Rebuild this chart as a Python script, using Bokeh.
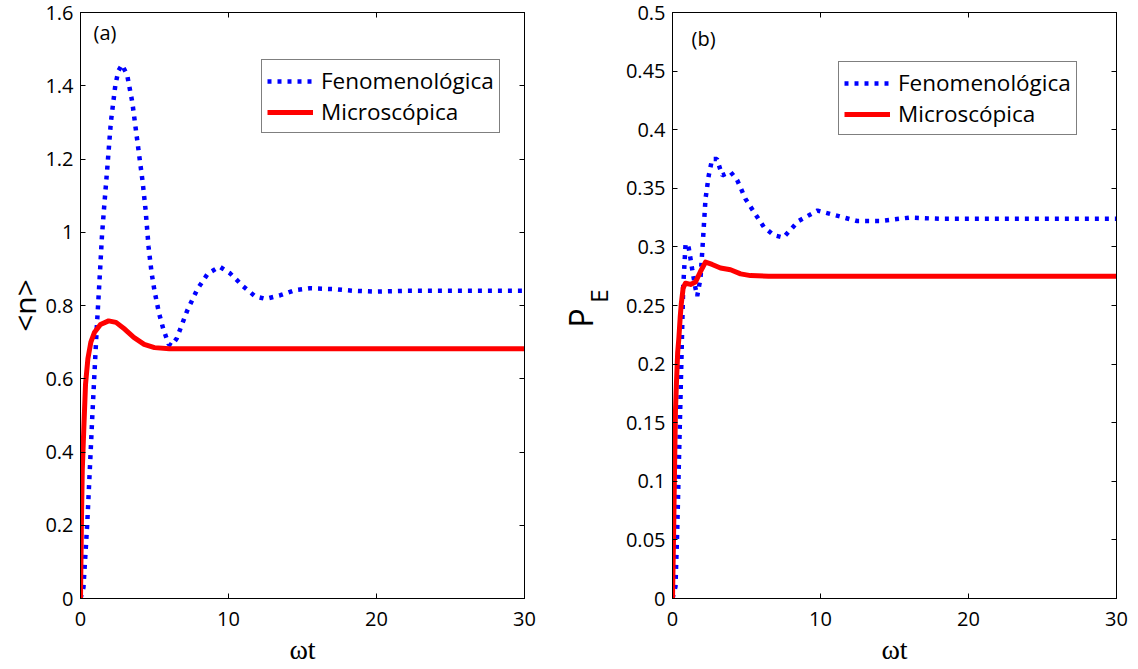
from bokeh.plotting import figure
from bokeh.layouts import row
from bokeh.models import Range1d, FixedTicker, LinearAxis, Label, Legend, LegendItem
from bokeh.embed import file_html
from bokeh.resources import INLINE

# ---------------- data ----------------
# panel (a): <n> vs wt
t_n_fen = [0, 0.2, 0.45, 0.65, 0.8, 0.95, 1.1, 1.3, 1.45, 1.6, 1.8, 2.05, 2.35, 2.55, 2.8,
           3.15, 3.5, 3.85, 4.2, 4.4, 4.6, 4.8, 5.0, 5.3, 5.6, 5.95, 6.15, 6.5, 7.2, 7.9,
           8.6, 9.4, 10.1, 11.0, 11.8, 12.5, 13.5, 14.5, 15.5, 17, 18.5, 20, 22, 25, 30]
n_fen = [0, 0.03, 0.2, 0.37, 0.5, 0.62, 0.74, 0.88, 0.99, 1.07, 1.17, 1.30, 1.40, 1.44, 1.457,
         1.43, 1.355, 1.246, 1.137, 1.06, 0.96, 0.89, 0.84, 0.78, 0.735, 0.695, 0.69, 0.71, 0.785, 0.845,
         0.887, 0.906, 0.888, 0.852, 0.825, 0.818, 0.828, 0.842, 0.847, 0.845, 0.84, 0.838, 0.84, 0.84, 0.84]

t_n_mic = [0, 0.06, 0.12, 0.22, 0.34, 0.5, 0.7, 0.95, 1.35, 1.9, 2.4, 3.0, 3.6, 4.3, 5.0, 6.0, 30]
n_mic = [0, 0.2, 0.35, 0.46, 0.585, 0.655, 0.70, 0.727, 0.748, 0.758, 0.754, 0.735, 0.713, 0.694, 0.685, 0.682, 0.682]

# panel (b): P_E vs wt
t_p_fen = [0, 0.2, 0.32, 0.43, 0.54, 0.65, 0.72, 0.88, 1.0, 1.1, 1.33, 1.55, 1.67, 1.89, 2.05,
           2.23, 2.45, 2.68, 3.0, 3.36, 3.92, 4.37, 4.93, 5.49, 6.17, 6.84, 7.5, 8.5, 9.8,
           11, 12.5, 14, 16, 18, 20, 30]
p_fen = [0, 0.01, 0.058, 0.115, 0.171, 0.228, 0.265, 0.302, 0.303, 0.299, 0.281, 0.265, 0.258, 0.273, 0.304,
         0.341, 0.361, 0.375, 0.375, 0.361, 0.364, 0.357, 0.341, 0.330, 0.317, 0.310, 0.308, 0.322, 0.331,
         0.327, 0.322, 0.322, 0.325, 0.324, 0.324, 0.324]

t_p_mic = [0, 0.08, 0.15, 0.2, 0.27, 0.35, 0.43, 0.52, 0.59, 0.72, 0.88, 1.22, 1.55, 1.89, 2.23,
           2.68, 3.24, 3.92, 4.6, 5.27, 6.5, 30]
p_mic = [0, 0.06, 0.12, 0.16, 0.185, 0.21, 0.222, 0.24, 0.251, 0.265, 0.269, 0.268, 0.270, 0.279, 0.287,
         0.285, 0.282, 0.2805, 0.277, 0.2755, 0.275, 0.275]

series_names = ["Fenomenológica", "Microscópica"]

x_ticks = [0, 10, 20, 30]
n_ticks = [0, 0.2, 0.4, 0.6, 0.8, 1.0, 1.2, 1.4, 1.6]
n_tick_labels = ["0", "0.2", "0.4", "0.6", "0.8", "1", "1.2", "1.4", "1.6"]
p_ticks = [0, 0.05, 0.1, 0.15, 0.2, 0.25, 0.3, 0.35, 0.4, 0.45, 0.5]
p_tick_labels = ["0", "0.05", "0.1", "0.15", "0.2", "0.25", "0.3", "0.35", "0.4", "0.45", "0.5"]

BLUE = "#0000FF"
RED = "#FF0000"
FONT = "Open Sans"
NBSP = "\u00a0"


def style_axis(ax, ticks, labels=None, show_labels=True, standoff=7):
    ax.ticker = FixedTicker(ticks=ticks)
    ax.axis_line_color = "black"
    ax.major_tick_line_color = "black"
    ax.major_tick_in = 5
    ax.major_tick_out = 0
    ax.minor_tick_line_color = None
    if show_labels:
        ax.major_label_text_font = FONT
        ax.major_label_text_font_size = "20px"
        ax.major_label_text_color = "black"
        ax.major_label_standoff = standoff
        if labels is not None:
            ax.major_label_overrides = {float(k): v for k, v in zip(ticks, labels)}
    else:
        ax.major_label_overrides = {float(k): "" for k in ticks}
        ax.major_label_text_font_size = "0px"
        ax.major_label_standoff = 0


def make_panel(width, left_border, right_border, y_max, y_ticks, y_labels,
               t_fen, y_fen, t_mic, y_mic, legend_loc):
    p = figure(width=width, height=669, x_range=Range1d(0, 30), y_range=Range1d(0, y_max),
               output_backend="svg", toolbar_location=None,
               min_border_left=left_border, min_border_right=right_border,
               min_border_top=12, min_border_bottom=71)
    p.grid.visible = False
    p.outline_line_color = "black"
    p.background_fill_color = "white"
    p.border_fill_color = "white"

    style_axis(p.xaxis[0], x_ticks, standoff=13)
    style_axis(p.yaxis[0], y_ticks, y_labels)
    p.xaxis[0].axis_label = "ωt"
    p.xaxis[0].axis_label_text_font = "Liberation Serif"
    p.xaxis[0].axis_label_text_font_style = "normal"
    p.xaxis[0].axis_label_text_font_size = "28px"
    p.xaxis[0].axis_label_text_color = "black"
    p.xaxis[0].axis_label_standoff = 5

    top = LinearAxis()
    style_axis(top, x_ticks, show_labels=False)
    p.add_layout(top, "above")
    right = LinearAxis()
    style_axis(right, y_ticks, show_labels=False)
    p.add_layout(right, "right")

    r_fen = p.line(t_fen, y_fen, line_color=BLUE, line_width=4.5, line_dash="4 6", line_cap="butt")
    r_mic = p.line(t_mic, y_mic, line_color=RED, line_width=5, line_join="round")

    legend = Legend(items=[LegendItem(label=series_names[0], renderers=[r_fen]),
                           LegendItem(label=series_names[1], renderers=[r_mic])],
                    location=legend_loc)
    legend.label_text_font = FONT
    legend.label_text_font_size = "22.5px"
    legend.label_text_color = "black"
    legend.glyph_width = 46
    legend.glyph_height = 24
    legend.label_standoff = 8
    legend.padding = 5
    legend.spacing = 0
    legend.margin = 0
    legend.border_line_color = "black"
    legend.border_line_width = 1
    legend.background_fill_color = "white"
    legend.background_fill_alpha = 1
    p.add_layout(legend)
    return p


p1 = make_panel(550, 80, 26, 1.6, n_ticks, n_tick_labels,
                t_n_fen, n_fen, t_n_mic, n_mic, (181, 465))
p2 = make_panel(588, 122, 22, 0.5, p_ticks, p_tick_labels,
                t_p_fen, p_fen, t_p_mic, p_mic, (166, 463))

# y-axis title of panel (a)
p1.yaxis[0].axis_label = "<n>"
p1.yaxis[0].axis_label_text_font = FONT
p1.yaxis[0].axis_label_text_font_style = "normal"
p1.yaxis[0].axis_label_text_font_size = "30px"
p1.yaxis[0].axis_label_text_color = "black"
p1.yaxis[0].axis_label_standoff = -3

# y-axis title of panel (b): P with subscript E (two stacked axis titles)
p2.yaxis[0].axis_label = NBSP * 3 + "E"
p2.yaxis[0].axis_label_text_font = FONT
p2.yaxis[0].axis_label_text_font_style = "normal"
p2.yaxis[0].axis_label_text_font_size = "24px"
p2.yaxis[0].axis_label_text_color = "black"
p2.yaxis[0].axis_label_standoff = 8

p_axis = LinearAxis()
style_axis(p_axis, p_ticks, show_labels=False)
p_axis.axis_line_color = None
p_axis.major_tick_line_color = None
p_axis.major_tick_in = 0
p_axis.axis_label = "P" + NBSP * 3
p_axis.axis_label_text_font = FONT
p_axis.axis_label_text_font_style = "normal"
p_axis.axis_label_text_font_size = "32px"
p_axis.axis_label_text_color = "black"
p_axis.axis_label_standoff = -23
p2.add_layout(p_axis, "left")

# panel tags
p1.add_layout(Label(x=0, y=1.6, x_offset=13, y_offset=-20, text="(a)",
                    text_font=FONT, text_font_size="20px", text_align="left",
                    text_baseline="middle", text_color="black"))
p2.add_layout(Label(x=0, y=0.5, x_offset=19, y_offset=-26, text="(b)",
                    text_font=FONT, text_font_size="20px", text_align="left",
                    text_baseline="middle", text_color="black"))

layout = row(p1, p2)
open("out.html", "w").write(file_html(layout, INLINE))
